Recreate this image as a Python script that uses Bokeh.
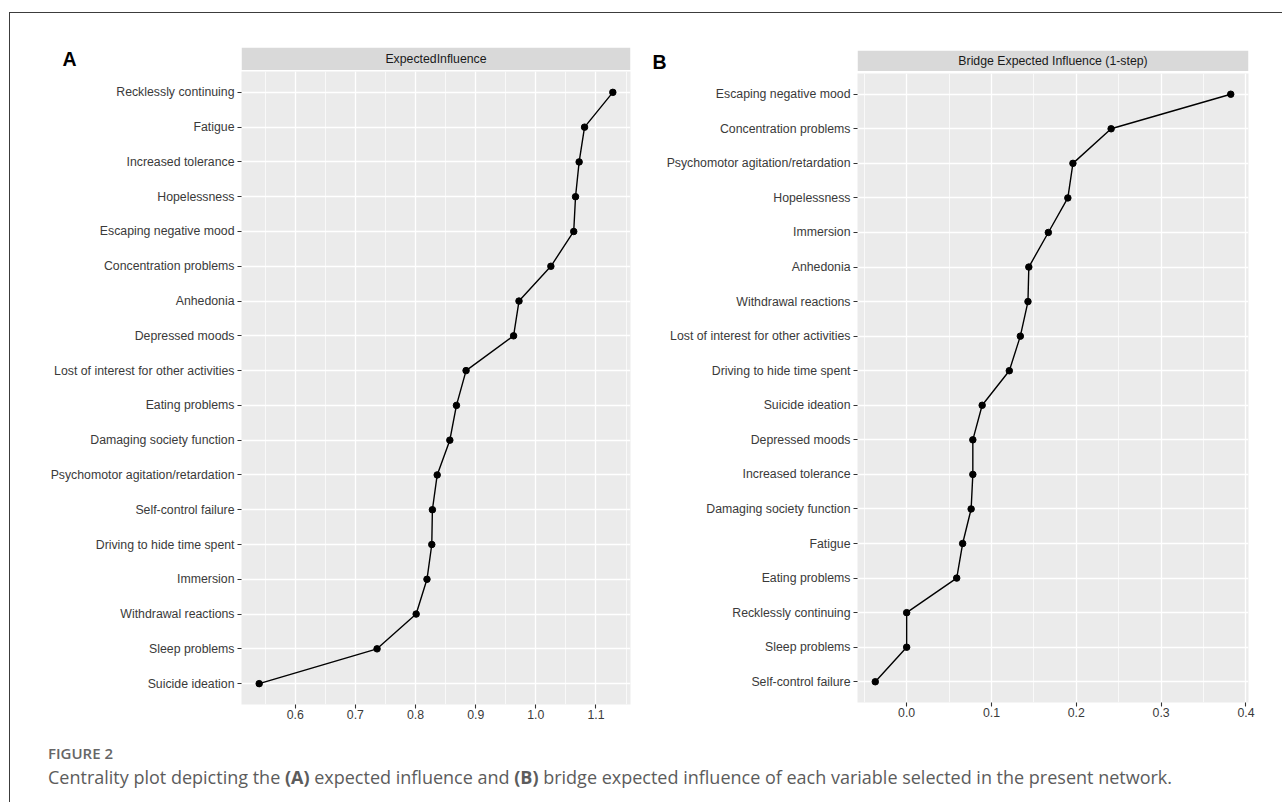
from bokeh.plotting import figure
from bokeh.models import (Range1d, FactorRange, SingleIntervalTicker, NumeralTickFormatter, Div,
                          LinearAxis, FixedTicker, CustomJSTickFormatter)
from bokeh.layouts import column, row
from bokeh.core.properties import value
from bokeh.embed import file_html
from bokeh.resources import INLINE

# ---------------- data ----------------
ei_labels = ["Recklessly continuing", "Fatigue", "Increased tolerance", "Hopelessness",
             "Escaping negative mood", "Concentration problems", "Anhedonia", "Depressed moods",
             "Lost of interest for other activities", "Eating problems", "Damaging society function",
             "Psychomotor agitation/retardation", "Self-control failure", "Driving to hide time spent",
             "Immersion", "Withdrawal reactions", "Sleep problems", "Suicide ideation"]
ei_values = [1.128, 1.081, 1.072, 1.066, 1.063, 1.025, 0.972, 0.963, 0.884, 0.868, 0.857,
             0.836, 0.828, 0.827, 0.819, 0.801, 0.736, 0.540]

bei_labels = ["Escaping negative mood", "Concentration problems", "Psychomotor agitation/retardation",
              "Hopelessness", "Immersion", "Anhedonia", "Withdrawal reactions",
              "Lost of interest for other activities", "Driving to hide time spent", "Suicide ideation",
              "Depressed moods", "Increased tolerance", "Damaging society function", "Fatigue",
              "Eating problems", "Recklessly continuing", "Sleep problems", "Self-control failure"]
bei_values = [0.382, 0.241, 0.196, 0.190, 0.167, 0.144, 0.143, 0.134, 0.121, 0.089,
              0.078, 0.078, 0.076, 0.066, 0.059, 0.000, 0.000, -0.037]

strip_titles = ["ExpectedInfluence", "Bridge Expected Influence (1-step)"]
panel_letters = ["A", "B"]
caption_head = "FIGURE 2"
caption_text = ("Centrality plot depicting the <b>(A)</b> expected influence and <b>(B)</b> bridge "
                "expected influence of each variable selected in the present network.")

FONT = "Liberation Sans"


def main_fig(labels, vals, width, height, mbl, mbr, mbt, mbb):
    lo, hi = min(vals), max(vals)
    pad = 0.05 * (hi - lo)
    p = figure(width=width, height=height,
               x_range=Range1d(lo - pad, hi + pad),
               y_range=FactorRange(factors=labels[::-1], range_padding=0.1,
                                   range_padding_units="absolute"),
               output_backend="svg", toolbar_location=None,
               min_border_left=mbl, min_border_right=mbr,
               min_border_top=mbt, min_border_bottom=mbb)
    p.background_fill_color = "#EBEBEB"
    p.border_fill_color = "white"
    p.outline_line_color = None

    p.xaxis.ticker = SingleIntervalTicker(interval=0.1, num_minor_ticks=2)
    p.xaxis.formatter = NumeralTickFormatter(format="0.0")
    for ax in (p.xaxis[0], p.yaxis[0]):
        ax.axis_line_color = None
        ax.major_tick_out = 4
        ax.major_tick_in = 0
        ax.major_tick_line_color = "#333333"
        ax.major_tick_line_width = 1.1
        ax.minor_tick_line_color = None
        ax.major_label_text_font = FONT
        ax.major_label_text_font_size = "12.3px"
        ax.major_label_text_color = "#3a3a3a"
        ax.major_label_standoff = 3
    p.xaxis.major_label_standoff = 1

    p.xgrid.grid_line_color = "white"
    p.xgrid.grid_line_width = 1.3
    p.xgrid.minor_grid_line_color = "white"
    p.xgrid.minor_grid_line_width = 0.7
    p.ygrid.grid_line_color = "white"
    p.ygrid.grid_line_width = 1.3

    p.line(x=vals, y=labels, line_color="black", line_width=1.4)
    p.scatter(x=vals, y=labels, size=6.5, fill_color="black", line_color="black")
    return p


def strip_fig(title, letter, width, height, mbt, gap_px, letter_gap, letter_y):
    # this figure's frame is aligned with the panel below; grey strip fills it
    # except a thin white gap at its bottom
    frame_h = height - mbt
    g = gap_px / frame_h
    s = figure(width=width, height=height, x_range=Range1d(0, 1), y_range=Range1d(0, 1),
               output_backend="svg", toolbar_location=None,
               x_axis_location=None, y_axis_location=None,
               min_border_top=mbt, min_border_bottom=0)
    s.grid.visible = False
    s.outline_line_color = None
    s.background_fill_color = "white"
    s.border_fill_color = "white"
    s.quad(left=[0], right=[1], bottom=[g], top=[1], fill_color="#D9D9D9", line_color=None)
    s.text(x=[0.5], y=[(1 + g) / 2], text=[title],
           text_align="center", text_baseline="middle", text_font=value(FONT),
           text_font_size="12.3px", text_color="#1A1A1A")
    # panel letter drawn as the only tick label of a left axis
    ax = LinearAxis(ticker=FixedTicker(ticks=[letter_y]),
                    formatter=CustomJSTickFormatter(code=f"return '{letter}';"),
                    axis_line_color=None, major_tick_line_color=None, minor_tick_line_color=None,
                    major_tick_out=0, major_tick_in=0, major_label_standoff=letter_gap,
                    major_label_text_font=FONT, major_label_text_font_size="19.5px",
                    major_label_text_font_style="bold", major_label_text_color="black",
                    major_label_text_baseline="middle")
    s.add_layout(ax, "left")
    return s


# layout constants (pixels)
WA, WB = 635, 636
A_L, A_R = 231, 15
B_L, B_R = 212, 33

stripA = strip_fig(strip_titles[0], panel_letters[0], WA, 58, 34, 1.5, 165, 0.40)
mainA = main_fig(ei_labels, ei_values, WA, 665, A_L, A_R, 0, 32)

stripB = strip_fig(strip_titles[1], panel_letters[1], WB, 59, 37, 1.5, 191, 0.5)
mainB = main_fig(bei_labels, bei_values, WB, 664, B_L, B_R, 1, 34)

cap = Div(text=(
    f'<div style="font-family:\'Open Sans\';color:#5c5c5c;padding-left:33px;padding-top:2px;">'
    f'<div style="font-size:15px;line-height:20px;font-weight:600;color:#666;">{caption_head}</div>'
    f'<div style="font-size:18px;line-height:22px;margin-top:3px;white-space:nowrap;">{caption_text}</div>'
    f'</div>'), width=1271, height=56)

layout = column(row(column(stripA, mainA), column(stripB, mainB)), cap,
                margin=(12, 0, 0, 9),
                styles={"border-top": "1px solid #3c3c3c", "border-left": "1px solid #3c3c3c"})

open("out.html", "w").write(file_html(layout, INLINE))
